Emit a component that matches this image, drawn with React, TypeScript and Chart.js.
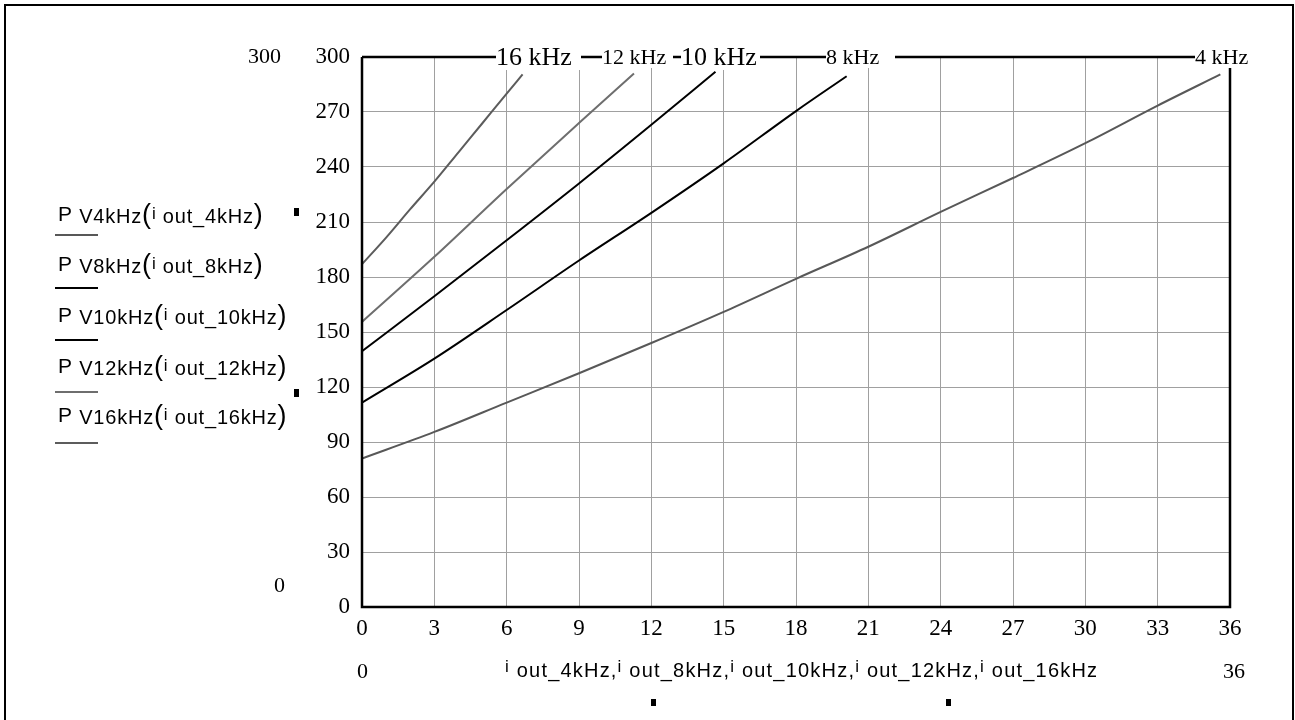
import React, { useEffect, useRef } from 'react';
import { Chart, registerables } from 'chart.js';

Chart.register(...registerables);

// ---- data ----
const xTickStep = 3;
const yTickStep = 30;
const xMin = 0;
const xMax = 36;
const yMin = 0;
const yMax = 300;

const i4 = [0, 3, 6, 9, 12, 15, 18, 21, 24, 27, 30, 33, 35.6];
const p4 = [81, 95.5, 111.5, 127.5, 144, 161, 179, 196.5, 215.5, 234, 253, 273.5, 290.5];

const i8 = [0, 3, 6, 9, 12, 15, 18, 20.1];
const p8 = [111.5, 135.5, 162, 189, 215, 242, 270.5, 289.5];

const i10 = [0, 3, 6, 9, 12, 14.66];
const p10 = [139.5, 169.5, 200, 231, 263, 292];

const i12 = [0, 3, 6, 9, 11.28];
const p12 = [155.5, 191, 228, 264, 291];

const i16 = [0, 1, 2, 3, 4, 5, 6, 6.66];
const p16 = [187, 201.5, 217, 232, 248, 264, 280, 290.5];

const seriesNames = ['4kHz', '8kHz', '10kHz', '12kHz', '16kHz'];
const seriesColors = ['#585858', '#000000', '#000000', '#6e6e6e', '#5c5c5c'];

const topLabels = ['16 kHz', '12 kHz', '10 kHz', '8 kHz', '4 kHz'];

const W = 1295;
const H = 720;

const framePlugin = {
  id: 'mathcadFrame',
  afterDatasetsDraw(chart: any) {
    const { ctx, chartArea } = chart;
    const { left, right, top, bottom } = chartArea;
    ctx.save();
    ctx.strokeStyle = '#000';
    ctx.lineWidth = 2.5;
    ctx.beginPath();
    ctx.moveTo(left, top);
    ctx.lineTo(left, bottom);
    ctx.lineTo(right, bottom);
    ctx.lineTo(right, top);
    ctx.stroke();
    ctx.beginPath();
    ctx.lineWidth = 2.5;
    ctx.moveTo(left, top);
    ctx.lineTo(right + 20, top);
    ctx.stroke();
    ctx.restore();
  },
};

function LegendEntry({ name, top }: { name: string; top: number }) {
  return (
    <div
      style={{
        position: 'absolute',
        left: 58,
        top,
        fontFamily: '"Liberation Sans", Arial, sans-serif',
        whiteSpace: 'nowrap',
        lineHeight: 1,
        color: '#000',
        letterSpacing: 0.8,
      }}
    >
      <span style={{ fontSize: 21 }}>P</span>
      <span style={{ fontSize: 20, position: 'relative', top: 2 }}> V{name}</span>
      <span style={{ fontSize: 27, position: 'relative', top: 2 }}>(</span>
      <span style={{ fontSize: 17, position: 'relative', top: -2 }}>i</span>
      <span style={{ fontSize: 20, position: 'relative', top: 2 }}> out_{name}</span>
      <span style={{ fontSize: 27, position: 'relative', top: 2 }}>)</span>
    </div>
  );
}

export default function App() {
  const canvasRef = useRef<HTMLCanvasElement | null>(null);

  useEffect(() => {
    const canvas = canvasRef.current;
    if (!canvas) return;
    const xs = [i4, i8, i10, i12, i16];
    const ps = [p4, p8, p10, p12, p16];
    const chart = new Chart(canvas, {
      type: 'line',
      data: {
        datasets: seriesNames.map((n, k) => ({
          label: 'P V' + n,
          data: xs[k].map((x, j) => ({ x, y: ps[k][j] })),
          borderColor: seriesColors[k],
          borderWidth: 2,
          pointRadius: 0,
          fill: false,
          cubicInterpolationMode: 'monotone' as const,
        })),
      },
      options: {
        responsive: false,
        animation: false,
        layout: { padding: { top: 57, right: 65, bottom: 0, left: 0 } },
        plugins: { legend: { display: false }, tooltip: { enabled: false } },
        scales: {
          x: {
            type: 'linear',
            min: xMin,
            max: xMax,
            ticks: {
              stepSize: xTickStep,
              color: '#000',
              font: { family: '"Liberation Serif", "Times New Roman", serif', size: 23 },
              padding: 8,
              maxRotation: 0,
            },
            grid: { color: '#a0a0a0', lineWidth: 1, drawTicks: false },
            border: { display: false },
            afterFit: (s: any) => {
              s.height = 113;
            },
          },
          y: {
            type: 'linear',
            min: yMin,
            max: yMax,
            ticks: {
              stepSize: yTickStep,
              color: '#000',
              font: { family: '"Liberation Serif", "Times New Roman", serif', size: 23 },
              padding: 12,
            },
            grid: { color: '#a0a0a0', lineWidth: 1, drawTicks: false },
            border: { display: false },
            afterFit: (s: any) => {
              s.width = 362;
            },
          },
        },
      },
      plugins: [framePlugin],
    });
    return () => chart.destroy();
  }, []);

  const serif = '"Liberation Serif", "Times New Roman", serif';
  const sans = '"Liberation Sans", Arial, sans-serif';
  const legendTops = [199, 249, 300, 351, 400];
  const legendLines = [235, 288, 340, 392, 443];

  const topLabelDefs = [
    { left: 496, size: 26, padR: 9 },
    { left: 602, size: 22, padR: 7 },
    { left: 681, size: 26, padR: 3 },
    { left: 826, size: 22, padR: 16 },
    { left: 1195, size: 22, padR: 12 },
  ];

  const bottomParts = seriesNames;

  return (
    <div
      style={{
        position: 'absolute',
        left: 0,
        top: 0,
        width: W,
        height: H,
        background: '#fff',
        overflow: 'hidden',
      }}
    >
      <canvas ref={canvasRef} width={W} height={H} style={{ position: 'absolute', left: 0, top: 0 }} />
      {/* outer page frame */}
      <div
        style={{
          position: 'absolute',
          left: 4,
          top: 4,
          width: 1286,
          height: 730,
          borderLeft: '2px solid #000',
          borderTop: '2px solid #000',
          borderRight: '2px solid #000',
        }}
      />
      {/* top trace labels */}
      {topLabels.map((t, k) => (
        <div
          key={t}
          style={{
            position: 'absolute',
            left: topLabelDefs[k].left,
            top: 57 - topLabelDefs[k].size / 2,
            fontFamily: serif,
            fontSize: topLabelDefs[k].size,
            lineHeight: 1,
            background: '#fff',
            paddingRight: topLabelDefs[k].padR,
            whiteSpace: 'nowrap',
            color: '#000',
          }}
        >
          {t}
        </div>
      ))}
      {/* outer axis limit labels */}
      <div style={{ position: 'absolute', left: 248, top: 45, fontFamily: serif, fontSize: 22, lineHeight: 1 }}>300</div>
      <div style={{ position: 'absolute', left: 274, top: 574, fontFamily: serif, fontSize: 22, lineHeight: 1 }}>0</div>
      <div style={{ position: 'absolute', left: 357, top: 660, fontFamily: serif, fontSize: 22, lineHeight: 1 }}>0</div>
      <div style={{ position: 'absolute', left: 1223, top: 660, fontFamily: serif, fontSize: 22, lineHeight: 1 }}>36</div>
      {/* legend */}
      {seriesNames.map((n, k) => (
        <LegendEntry key={n} name={n} top={legendTops[k]} />
      ))}
      {seriesNames.map((n, k) => (
        <div
          key={'l' + n}
          style={{
            position: 'absolute',
            left: 55,
            top: legendLines[k] - 1,
            width: 43,
            height: 2,
            background: seriesColors[k],
          }}
        />
      ))}
      {/* x-axis expression */}
      <div
        style={{
          position: 'absolute',
          left: 505,
          top: 658,
          fontFamily: sans,
          whiteSpace: 'nowrap',
          lineHeight: 1,
          letterSpacing: 1.2,
          color: '#000',
        }}
      >
        {bottomParts.map((n, k) => (
          <span key={n}>
            <span style={{ fontSize: 17, position: 'relative', top: -3 }}>i</span>
            <span style={{ fontSize: 20, position: 'relative', top: 2 }}> out_{n}</span>
            {k < bottomParts.length - 1 ? <span style={{ fontSize: 20, position: 'relative', top: 2 }}>,</span> : null}
          </span>
        ))}
      </div>
      {/* Mathcad placeholder markers */}
      <div style={{ position: 'absolute', left: 294, top: 208, width: 5, height: 8, background: '#000' }} />
      <div style={{ position: 'absolute', left: 294, top: 389, width: 5, height: 8, background: '#000' }} />
      <div style={{ position: 'absolute', left: 651, top: 699, width: 5, height: 7, background: '#000' }} />
      <div style={{ position: 'absolute', left: 946, top: 699, width: 5, height: 7, background: '#000' }} />
    </div>
  );
}
